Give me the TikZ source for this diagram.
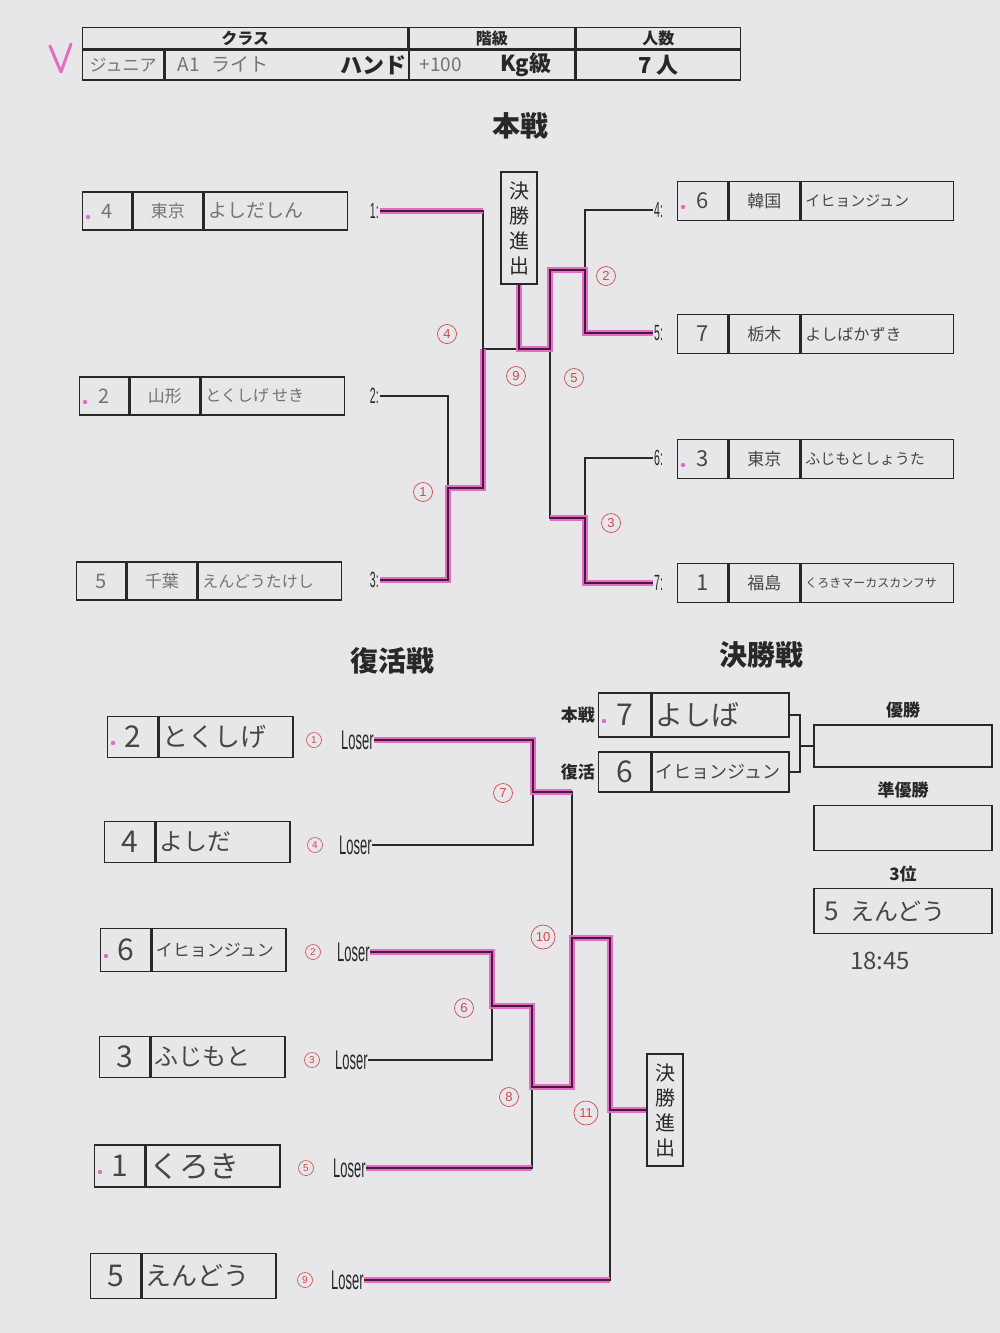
\documentclass[tikz,border=0pt]{standalone}
\usepackage{fontspec}
\setmainfont{Noto Sans CJK JP}
\newfontfamily\latinfont{Liberation Sans}
\newfontfamily\condfont[FakeStretch=0.48]{Liberation Sans}
\usetikzlibrary{positioning}
\definecolor{paper}{RGB}{231,231,233}
\definecolor{ink}{RGB}{40,40,40}
\definecolor{pencil}{RGB}{70,70,70}
\definecolor{lightpencil}{RGB}{115,115,115}
\definecolor{hlpink}{RGB}{226,110,196}
\definecolor{hldark}{RGB}{75,25,62}
\definecolor{redink}{RGB}{208,72,78}
\newcommand*{\fsz}[1]{\fontsize{#1}{#1}\selectfont}
\tikzstyle{every picture}+=[
  cell/.style={draw=ink, line width=1.3pt, inner xsep=4pt, inner ysep=0pt, text=pencil},
  hcell/.style={draw=ink, line width=1.3pt, inner sep=0pt, text=ink, font=\bfseries\fsz{16}},
  title/.style={text=ink, font=\bfseries\fsz{28}},
  place/.style={text=ink, font=\bfseries\fsz{17}, inner sep=0pt},
  numlab/.style={text=ink, font=\condfont\fsz{22}, inner sep=1pt},
  losertxt/.style={text=ink, font=\condfont\fsz{27}, inner sep=0pt},
  cnum/.style={circle, draw=redink, line width=0.7pt, text=redink, font=\latinfont\fsz{13}, inner sep=0pt, minimum size=19pt},
  pnum/.style={circle, draw=redink, line width=0.6pt, text=redink, font=\latinfont\fsz{10}, inner sep=0pt, minimum size=15pt},
  finbox/.style={draw=ink, line width=1.3pt, text=ink, font=\fontsize{20}{25}\selectfont, align=center, minimum width=36pt, minimum height=112pt, inner sep=0pt},
  bline/.style={draw=ink, line width=1.3pt},
  hl/.style={draw=hlpink, line width=6.5pt, postaction={draw=hldark, line width=2.3pt}},
  la/.style={minimum width=49pt, minimum height=38pt, text=lightpencil},
  lb/.style={minimum width=70pt, minimum height=38pt, text=lightpencil},
  lc/.style={text width=135pt, align=left, minimum height=38pt, text=lightpencil},
  ra/.style={minimum width=50pt, minimum height=39pt},
  rb/.style={minimum width=71pt, minimum height=39pt},
  rc/.style={text width=144pt, align=left, minimum height=39pt}
]
\newcommand*{\entry}[6]{%
  \node[cell, #3a, anchor=west] (#1a) at #2 {#4};
  \node[cell, #3b, right=0pt of #1a] (#1b) {#5};
  \node[cell, #3c, right=0pt of #1b] (#1c) {#6};
}
\newcommand*{\repentry}[5]{%
  \node[cell, minimum width=50pt, minimum height=#5, anchor=west] (#1a) at #2 {\fsz{30}#3};
  \node[cell, text width=126pt, align=left, minimum height=#5, right=0pt of #1a] (#1b) {#4};
}
\newcommand*{\loserrow}[5]{%
  \node[pnum] (#1n) at (#3,#5) {#2};
  \node[losertxt, anchor=west] (#1) at (#4,#5) {Loser};
}
\newcommand*{\seeddot}[1]{\fill[hlpink] (#1.west) ++(6,6) circle (2.2)}

\begin{document}
\begin{tikzpicture}[x=1pt, y=-1pt]
\useasboundingbox (0,0) rectangle (1000,1333);
\fill[paper] (0,0) rectangle (1000,1333);
%
\draw[hlpink, line width=3pt, line cap=round, line join=round] (50,46) -- (61,72) -- (71,44);
\node[hcell, minimum width=325pt, minimum height=21pt, anchor=north west] (h1) at (82,27) {クラス};
\node[hcell, minimum width=166pt, minimum height=21pt, right=0pt of h1] (h2) {階級};
\node[hcell, minimum width=164pt, minimum height=21pt, right=0pt of h2] (h3) {人数};
\node[hcell, minimum width=81pt, minimum height=30pt, anchor=north west] (h4) at (h1.south west) {\mdseries\color{lightpencil}\fsz{17}ジュニア};
\node[hcell, minimum width=244pt, minimum height=30pt, right=0pt of h4] (h5) {};
\node[hcell, minimum width=166pt, minimum height=30pt, anchor=north west] (h6) at (h2.south west) {};
\node[hcell, minimum width=164pt, minimum height=30pt, anchor=north west] (h7) at (h3.south west) {\fsz{22}7 人};
\node[text=lightpencil, font=\fsz{19}, anchor=west] (cls) at ([xshift=10pt]h5.west) {A1\hspace{12pt}ライト};
\node[text=ink, font=\bfseries\fsz{22}, anchor=east, inner sep=3pt] (hand) at (h5.east) {ハンド};
\node[text=lightpencil, font=\fsz{19}, anchor=west] (wt) at ([xshift=8pt]h6.west) {+100};
\node[text=ink, font=\bfseries\fsz{22}, anchor=east, inner sep=0pt] (kg) at ([xshift=-24pt]h6.east) {Kg級};
%
\node[title] (tmain) at (520,126) {本戦};
\node[title] (trep) at (392,661) {復活戦};
\node[title] (tfin) at (761,655) {決勝戦};
%
\entry{b1}{(82,211)}{l}{\fsz{20}4}{\fsz{17}東京}{\fsz{19}よしだしん}
\entry{b2}{(79,396)}{l}{\fsz{20}2}{\fsz{17}山形}{\fsz{16}とくしげ せき}
\entry{b3}{(76,581)}{l}{\fsz{20}5}{\fsz{17}千葉}{\fsz{16}えんどうたけし}
\entry{b4}{(677,201)}{r}{\fsz{22}6}{\fsz{17}韓国}{\fsz{15}イヒョンジュン}
\entry{b5}{(677,334)}{r}{\fsz{22}7}{\fsz{17}栃木}{\fsz{16}よしばかずき}
\entry{b6}{(677,459)}{r}{\fsz{22}3}{\fsz{17}東京}{\fsz{15}ふじもとしょうた}
\entry{b7}{(677,583)}{r}{\fsz{22}1}{\fsz{17}福島}{\fsz{12}くろきマーカスカンフサ}
\seeddot{b1a}; \seeddot{b2a}; \seeddot{b4a}; \seeddot{b6a};
%
\node[numlab, anchor=east] (e1) at (380,211) {1:};
\node[numlab, anchor=east] (e2) at (380,396) {2:};
\node[numlab, anchor=east] (e3) at (380,580) {3:};
\node[numlab, anchor=west] (e4) at (653,210) {4:};
\node[numlab, anchor=west] (e5) at (653,333) {5:};
\node[numlab, anchor=west] (e6) at (653,458) {6:};
\node[numlab, anchor=west] (e7) at (653,583) {7:};
\node[finbox] (fin1) at (519,228) {決\\勝\\進\\出};
\coordinate (m1) at (448,488);
\coordinate (m4) at (483,349);
\coordinate (m2) at (585,270);
\coordinate (m3) at (585,518);
\coordinate (m5) at (550,349);
%
\draw[bline] (e1.east) -| (m4);
\draw[bline] (e2.east) -| (m1);
\draw[bline] (e3.east) -| (m1);
\draw[bline] (m1) -| (m4);
\draw[bline] (m4) -- (m5);
\draw[bline] (e4.west) -| (m2);
\draw[bline] (e5.west) -| (m2);
\draw[bline] (e6.west) -| (m3);
\draw[bline] (e7.west) -| (m3);
\draw[bline] (m2) -| (m5);
\draw[bline] (m3) -| (m5);
\draw[hl] (e1.east) -- (e1.east -| m4);
\draw[hl] (e3.east) -| (m1) -| (m4);
\draw[hl] (fin1.south) |- (m5) |- (m2) |- (e5.west);
\draw[hl] (m3 -| m5) -- (m3) |- (e7.west);
%
\node[cnum] (c4) at (447,334) {4};
\node[cnum] (c1) at (423,492) {1};
\node[cnum] (c9) at (516,376) {9};
\node[cnum] (c5) at (574,378) {5};
\node[cnum] (c2) at (606,276) {2};
\node[cnum] (c3) at (611,523) {3};
%
\node[cell, minimum width=52pt, minimum height=44pt, anchor=west] (fb1a) at (598,715) {\fsz{30}7};
\node[cell, text width=129pt, align=left, minimum height=44pt, right=0pt of fb1a] (fb1b) {\fsz{28}よしば};
\node[cell, minimum width=52pt, minimum height=40pt, anchor=west] (fb2a) at (598,772) {\fsz{30}6};
\node[cell, text width=129pt, align=left, minimum height=40pt, right=0pt of fb2a] (fb2b) {\fsz{18}イヒョンジュン};
\seeddot{fb1a};
\node[place, left=3pt of fb1a] (lmain) {本戦};
\node[place, left=3pt of fb2a] (lrep) {復活};
\coordinate (fj) at (800,746);
\node[cell, minimum width=178pt, minimum height=42pt] (win) at (903,746) {};
\node[place, above=6pt of win] (lwin) {優勝};
\node[cell, minimum width=178pt, minimum height=45pt] (second) at (903,828) {};
\node[place, above=6pt of second] (lsecond) {準優勝};
\node[cell, text width=170pt, align=left, minimum height=45pt] (third) at (903,911) {\hspace*{6pt}\fsz{26}5\hspace{12pt}\fsz{24}えんどう};
\node[place, above=6pt of third] (lthird) {3位};
\node[text=pencil, font=\fsz{24}] (time) at (880,961) {18:45};
\draw[bline] (fb1b.east) -| (fj);
\draw[bline] (fb2b.east) -| (fj);
\draw[bline] (fj) -- (win.west);
%
\repentry{rA}{(107,737)}{2}{\fsz{26}とくしげ}{41pt}
\repentry{rB}{(104,842)}{4}{\fsz{24}よしだ}{41pt}
\repentry{rC}{(100,950)}{6}{\fsz{17}イヒョンジュン}{43pt}
\repentry{rD}{(99,1057)}{3}{\fsz{24}ふじもと}{41pt}
\repentry{rE}{(94,1166)}{1}{\fsz{30}くろき}{42pt}
\repentry{rF}{(90,1276)}{5}{\fsz{26}えんどう}{45pt}
\seeddot{rAa}; \seeddot{rCa}; \seeddot{rEa};
%
\loserrow{l1}{1}{314}{341}{740}
\loserrow{l4}{4}{315}{339}{845}
\loserrow{l2}{2}{313}{337}{952}
\loserrow{l3}{3}{312}{335}{1060}
\loserrow{l5}{5}{306}{333}{1168}
\loserrow{l9}{9}{305}{331}{1280}
\node[finbox] (fin2) at (665,1110) {決\\勝\\進\\出};
\coordinate (r7) at (533,792);
\coordinate (r6) at (492,1006);
\coordinate (r8) at (532,1087);
\coordinate (r10) at (572,938);
\coordinate (r11) at (610,1110);
%
\draw[bline] (l1.east) -| (r7);
\draw[bline] (l4.east) -| (r7);
\draw[bline] (l2.east) -| (r6);
\draw[bline] (l3.east) -| (r6);
\draw[bline] (r6) -| (r8);
\draw[bline] (l5.east) -| (r8);
\draw[bline] (r7) -| (r10);
\draw[bline] (r8) -| (r10);
\draw[bline] (r10) -| (r11);
\draw[bline] (l9.east) -| (r11);
\draw[bline] (r11) -- (fin2.west);
\draw[hl] (l1.east) -| (r7) -- (r7 -| r10);
\draw[hl] (l2.east) -| (r6) -| (r8) -| (r10) -| (r11) -- (fin2.west);
\draw[hl] (l5.east) -- (l5.east -| r8);
\draw[hl] (l9.east) -- (l9.east -| r11);
%
\node[cnum] (c7) at (503,793) {7};
\node[cnum, minimum size=24pt] (c10) at (543,937) {10};
\node[cnum] (c6) at (464,1008) {6};
\node[cnum] (c8) at (509,1097) {8};
\node[cnum, minimum size=24pt] (c11) at (586,1113) {11};
\end{tikzpicture}
\end{document}
